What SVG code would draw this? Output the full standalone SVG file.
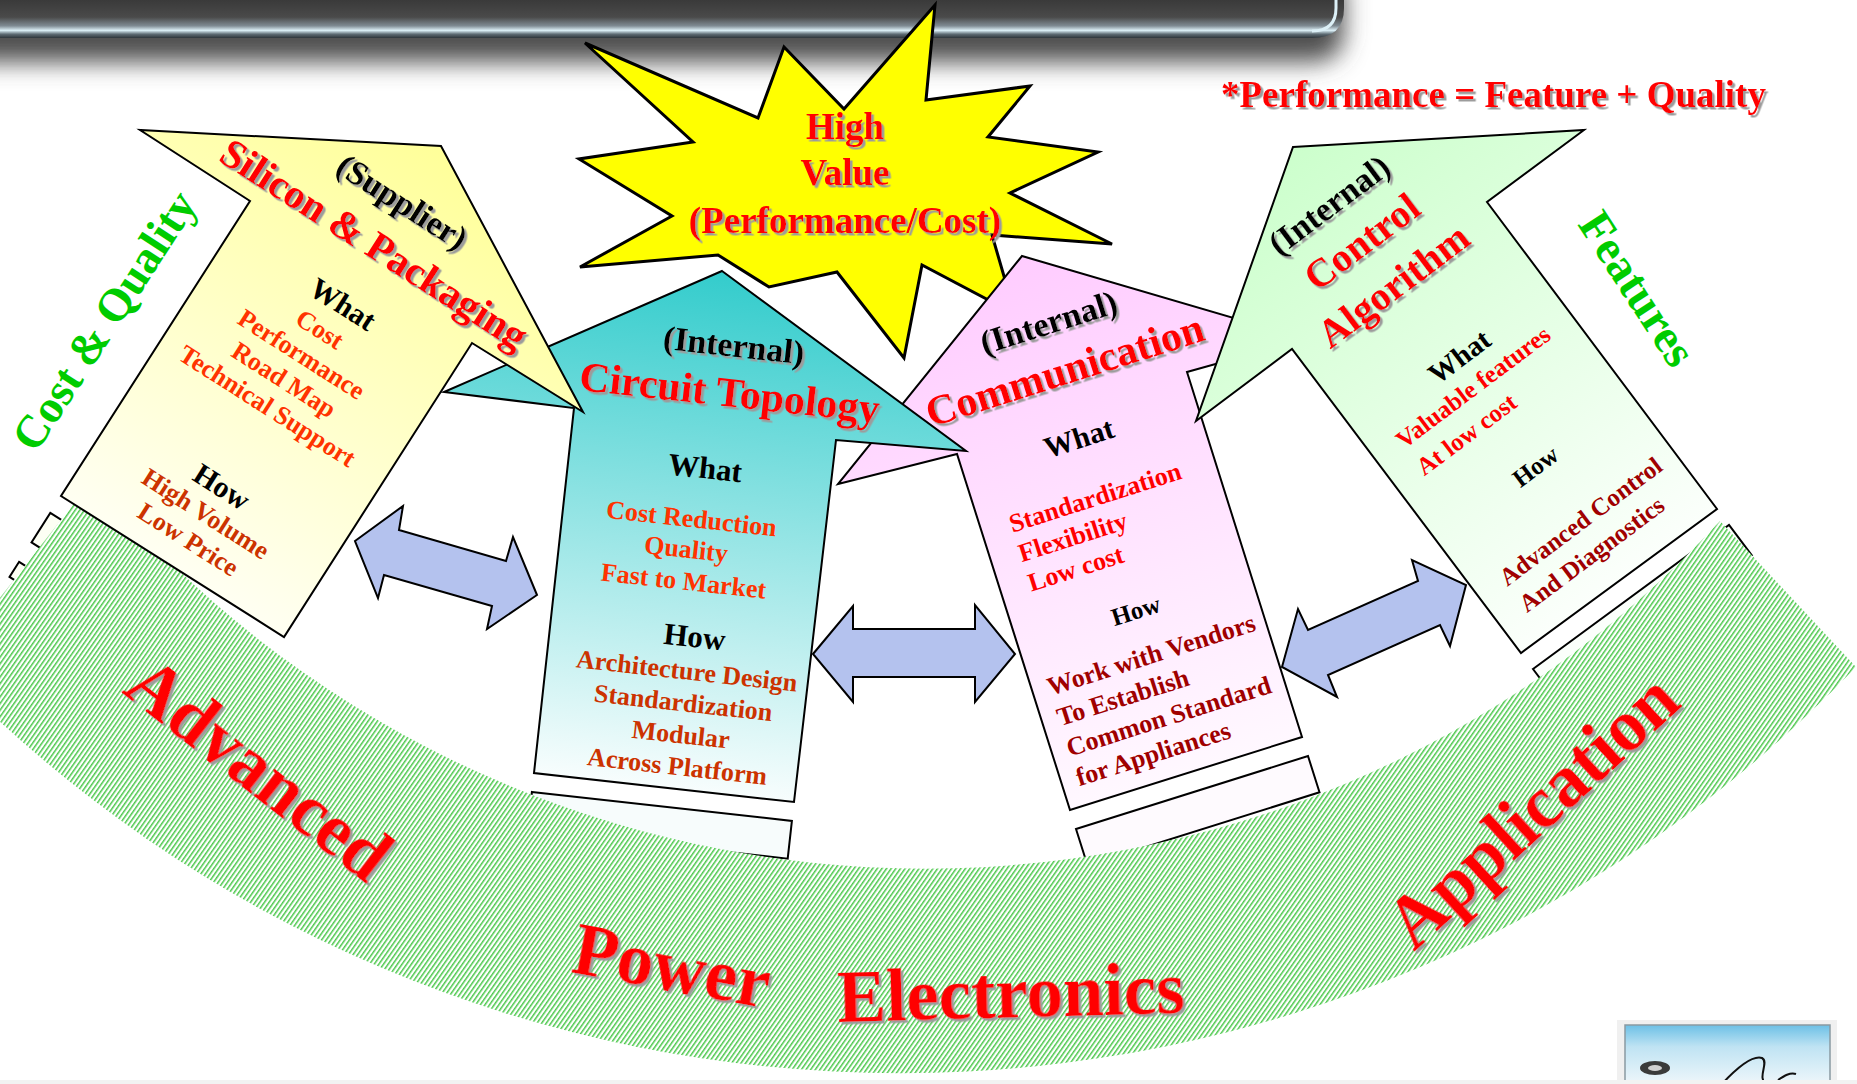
<svg xmlns="http://www.w3.org/2000/svg" width="1857" height="1084" viewBox="0 0 1857 1084">
<defs>
<style>
text{font-family:"Liberation Serif","Times New Roman",serif;font-weight:bold;}
.arrow{stroke:#000;stroke-width:2;stroke-linejoin:miter;}
.plate{stroke:#000;stroke-width:2;}
.dbl{fill:#b4c2ee;stroke:#000;stroke-width:2;stroke-linejoin:miter;}
.red{fill:#ff0000;}
.blk{fill:#000;}
.org{fill:#ff3300;}
.brn{fill:#cc3300;}
.drd{fill:#a00000;}
.grn{fill:#00cc00;}
.mid{text-anchor:middle;}
</style>
<filter id="sh" x="-10%" y="-20%" width="130%" height="160%">
<feDropShadow dx="2.5" dy="2.5" stdDeviation="0.4" flood-color="#9c9c9c" flood-opacity="1"/>
</filter>
<filter id="soft" x="-5%" y="-60%" width="110%" height="300%">
<feGaussianBlur stdDeviation="12"/>
</filter>
<linearGradient id="barGrad" gradientUnits="userSpaceOnUse" x1="0" y1="0" x2="0" y2="38">
<stop offset="0" stop-color="#3a3a3a"/>
<stop offset="0.45" stop-color="#4a4a4a"/>
<stop offset="0.68" stop-color="#7f8b93"/>
<stop offset="0.8" stop-color="#dcf0f7"/>
<stop offset="0.9" stop-color="#5d6b73"/>
<stop offset="1" stop-color="#2e353a"/>
</linearGradient>
<linearGradient id="gY" gradientUnits="userSpaceOnUse" x1="441" y1="146" x2="172" y2="566">
<stop offset="0" stop-color="#ffff99"/><stop offset="1" stop-color="#fffff2"/>
</linearGradient>
<linearGradient id="gT" gradientUnits="userSpaceOnUse" x1="722" y1="271" x2="664" y2="787">
<stop offset="0" stop-color="#33cccc"/><stop offset="1" stop-color="#f7fdfd"/>
</linearGradient>
<linearGradient id="gP" gradientUnits="userSpaceOnUse" x1="1022" y1="256" x2="1186" y2="773">
<stop offset="0" stop-color="#ffccff"/><stop offset="1" stop-color="#fff8ff"/>
</linearGradient>
<linearGradient id="gG" gradientUnits="userSpaceOnUse" x1="1293" y1="147" x2="1619" y2="581">
<stop offset="0" stop-color="#ccffcc"/><stop offset="1" stop-color="#fbfffb"/>
</linearGradient>
<linearGradient id="logoGrad" x1="0" y1="0" x2="0" y2="1">
<stop offset="0" stop-color="#6cc0e6"/><stop offset="0.35" stop-color="#bfe3f3"/><stop offset="1" stop-color="#f2f8fb"/>
</linearGradient>
<pattern id="hatch" patternUnits="userSpaceOnUse" width="3.8" height="3.8" patternTransform="rotate(35)">
<rect width="3.8" height="3.8" fill="#ffffff"/>
<rect width="1.5" height="3.8" fill="#4cc84c"/>
</pattern>
</defs>

<rect width="1857" height="1084" fill="#ffffff"/>

<g id="top-bar">
<path d="M-30,-20 H1344 V30 Q1344,62 1312,62 H-30 Z" fill="#505050" filter="url(#soft)"/>
<path d="M0,0 H1344 V8 Q1344,38 1312,38 H0 Z" fill="url(#barGrad)"/>
<path d="M1336,0 V8 Q1336,31 1312,31" fill="none" stroke="#dcf0f7" stroke-width="3"/>
</g>

<g id="star-high-value">
<polygon points="585,43 758,118 784,47 844,109 935,5 926,100 1030,86 988,137 1098,152 1010,193 1112,244 992,235 1015,314 922,265 904,358 837,272 769,287 718,255 580,267 672,216 579,159 693,142" fill="#ffff00" stroke="#000" stroke-width="3" stroke-linejoin="miter"/>
<g filter="url(#sh)">
<text x="845" y="139" font-size="37" class="red mid">High</text>
<text x="845" y="185" font-size="37" class="red mid">Value</text>
<text x="845" y="233" font-size="37" class="red mid">(Performance/Cost)</text>
</g>
</g>

<g id="base-plates">
<polygon class="plate" fill="#fdfff4" points="50.3,512.9 273.3,653.9 254.5,683.4 31.5,542.4"/>
<polygon class="plate" fill="#fdfff4" points="19.1,561.8 242.1,702.8 232.5,718 9.5,576.9"/>
<polygon class="plate" fill="#f7fcfc" points="531.9,791.9 791.9,820.9 787.7,858.7 527.7,829.7"/>
<polygon class="plate" fill="#fefafe" points="1076,829 1308,756 1319.5,792.3 1087.5,865.3"/>
<polygon class="plate" fill="#fefafe" points="1094,886 1326,813 1337.6,849.5 1105.6,922.5"/>
<polygon class="plate" fill="#fbfffb" points="1533,669 1729,525 1751.8,555.4 1555.8,699.4"/>
</g>

<g id="band">
<path d="M93,479 A1083,1083 0 0 0 1720,521 L1856,667 A1328,1328 0 0 1 -55,668 Z" fill="url(#hatch)"/>
</g>

<g id="node-communication">
<polygon class="arrow" fill="url(#gP)" points="1022,256 1305,339 1187,372 1302,737 1070,810 957,454 838,484"/>
<g filter="url(#sh)"><g transform="translate(1072,413) rotate(-17.6)">
<text x="5" y="-82" font-size="34" class="blk mid">(Internal)</text>
<text x="6" y="-29" font-size="42" class="red mid">Communication</text>
</g></g>
<g transform="translate(1072,413) rotate(-17.6)">
<text x="-1" y="36" font-size="30" class="blk mid">What</text>
<text x="-93" y="96" font-size="26" class="red">Standardization</text>
<text x="-93" y="127" font-size="26" class="red">Flexibility</text>
<text x="-93" y="158" font-size="26" class="red">Low cost</text>
<text x="1" y="216" font-size="25" class="blk mid">How</text>
<text x="-106" y="263" font-size="26" class="drd">Work with Vendors</text>
<text x="-106" y="295" font-size="26" class="drd">To Establish</text>
<text x="-106" y="327" font-size="26" class="drd">Common Standard</text>
<text x="-106" y="358" font-size="26" class="drd">for Appliances</text>
</g>
</g>

<g id="node-control-algorithm">
<polygon class="arrow" fill="url(#gG)" points="1293,147 1584,130 1487,202 1717,509 1521,653 1292,349 1196,421"/>
<g filter="url(#sh)"><g transform="translate(1390,276) rotate(-36.9)">
<text x="-6" y="-82" font-size="34" class="blk mid">(Internal)</text>
<text x="-2" y="-31" font-size="40" class="red mid">Control</text>
<text x="-3" y="23" font-size="40" class="red mid">Algorithm</text>
</g></g>
<g transform="translate(1390,276) rotate(-36.9)">
<text x="7" y="116" font-size="29" class="blk mid">What</text>
<text x="-93" y="147" font-size="25" class="red">Valuable features</text>
<text x="-93" y="181" font-size="25" class="red">At low cost</text>
<text x="2" y="248" font-size="25" class="blk mid">How</text>
<text x="-93" y="319" font-size="25" class="drd">Advanced Control</text>
<text x="-93" y="352" font-size="25" class="drd">And Diagnostics</text>
</g>
</g>

<g id="node-circuit-topology">
<polygon class="arrow" fill="url(#gT)" points="722,271 966,451 836,440 794,802 534,773 574,408 444,392"/>
<g filter="url(#sh)"><g transform="translate(705,424) rotate(6.3)">
<text x="20" y="-70" font-size="34" class="blk mid">(Internal)</text>
<text x="21" y="-20" font-size="42" class="red mid">Circuit Topology</text>
</g></g>
<g transform="translate(705,424) rotate(6.3)">
<text x="5" y="54" font-size="31" class="blk mid">What</text>
<text x="-3" y="104" font-size="26" class="org mid">Cost Reduction</text>
<text x="-5" y="135" font-size="26" class="org mid">Quality</text>
<text x="-4" y="167" font-size="26" class="org mid">Fast to Market</text>
<text x="13" y="223" font-size="31" class="blk mid">How</text>
<text x="9" y="256" font-size="26" class="brn mid">Architecture Design</text>
<text x="9" y="288" font-size="26" class="brn mid">Standardization</text>
<text x="10" y="320" font-size="26" class="brn mid">Modular</text>
<text x="10" y="352" font-size="26" class="brn mid">Across Platform</text>
</g>
</g>

<g id="node-silicon-packaging">
<polygon class="arrow" fill="url(#gY)" points="441,146 583,412 472,343 284,637 61,496 250,201 140,130"/>
<g filter="url(#sh)"><g transform="translate(361,272) rotate(32.5)">
<text x="-3" y="-70" font-size="34" class="blk mid">(Supplier)</text>
<text x="-4" y="-17" font-size="41" class="red mid">Silicon &amp; Packaging</text>
</g></g>
<g transform="translate(361,272) rotate(32.5)">
<text x="2" y="47" font-size="30" class="blk mid">What</text>
<text x="-4" y="79" font-size="26" class="org mid">Cost</text>
<text x="-6" y="110" font-size="26" class="org mid">Performance</text>
<text x="-7" y="141" font-size="26" class="org mid">Road Map</text>
<text x="-7" y="172" font-size="26" class="org mid">Technical Support</text>
<text x="-2" y="266" font-size="30" class="blk mid">How</text>
<text x="-1" y="296" font-size="26" class="brn mid">High Volume</text>
<text x="-2" y="327" font-size="26" class="brn mid">Low Price</text>
</g>
</g>

<g id="connectors">
<polygon class="dbl" points="355,541 403,506 399,530 506,561 513,537 537,595 487,629 492,606 384,575 378,598"/>
<polygon class="dbl" points="813,654 853,606 853,629 975,629 975,605 1015,654 975,702 975,677 853,677 853,702"/>
<polygon class="dbl" points="1282,667 1298,609 1308,630 1418,581 1412,560 1466,585 1450,646 1440,625 1328,675 1337,697"/>
</g>

<g id="labels">
<text transform="translate(108,323) rotate(-57)" x="0" y="11" font-size="46" class="grn mid">Cost &amp; Quality</text>
<text transform="translate(1637,289) rotate(57)" x="0" y="15" font-size="47" class="grn mid">Features</text>
<g filter="url(#sh)">
<text x="1221" y="107" font-size="37" class="red">*Performance = Feature + Quality</text>
<text transform="translate(121,692) rotate(38)" font-size="73" class="red">Advanced</text>
<text transform="translate(570,972) rotate(10.5)" font-size="73" class="red">Power</text>
<text transform="translate(838,1022) rotate(-1.5)" font-size="73" class="red">Electronics</text>
<text transform="translate(1414,952) rotate(-42.5)" font-size="73" class="red">Application</text>
</g>
</g>

<g id="logo">
<rect x="1617" y="1020" width="220" height="70" fill="#e6e6e6" opacity="0.6"/>
<rect x="1625" y="1025" width="205" height="62" fill="url(#logoGrad)" stroke="#8a9aa2" stroke-width="1.5"/>
<ellipse cx="1655" cy="1068" rx="15" ry="7" fill="#3a3a3a"/>
<ellipse cx="1655" cy="1068" rx="7" ry="3" fill="#d0d0d0"/>
<path d="M1722,1084 C1735,1070 1752,1055 1762,1058 C1770,1062 1755,1080 1768,1084 M1778,1080 C1784,1076 1790,1072 1796,1074" fill="none" stroke="#111" stroke-width="2"/>
</g>
<rect x="0" y="1080" width="1857" height="4" fill="#f2f2f2"/>
</svg>
